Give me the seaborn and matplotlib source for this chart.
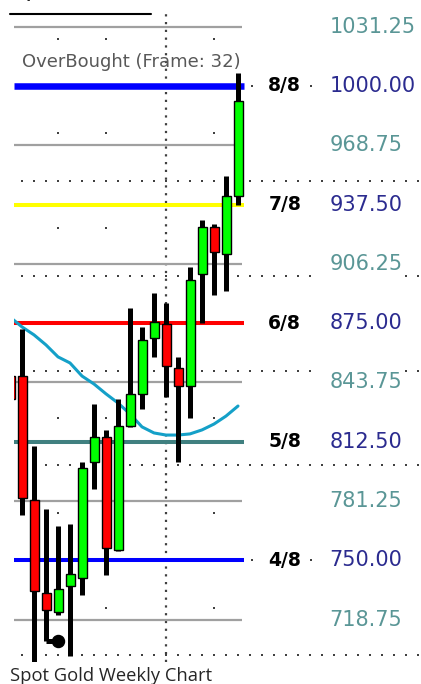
import numpy as np
import pandas as pd
import matplotlib
matplotlib.use("Agg")
import matplotlib.pyplot as plt
from matplotlib.lines import Line2D
import seaborn as sns

# weekly candles (index 0 is the one cut by the left edge)
opens = [847.0, 847.1, 781.8, 732.8, 722.7, 736.5, 740.7, 801.8, 815.0, 755.4,
         820.8, 837.7, 867.2, 874.6, 851.4, 841.9, 900.9, 925.7, 911.4, 942.0]
highs = [848.0, 871.9, 810.2, 777.0, 768.1, 769.1, 801.8, 832.4, 818.7, 835.0,
         883.0, 873.0, 890.9, 885.6, 857.2, 904.6, 929.4, 927.3, 952.6, 1006.9]
lows = [834.0, 773.9, 690.0, 707.5, 721.2, 699.6, 731.7, 787.6, 742.3, 755.0,
        820.3, 829.7, 857.2, 836.1, 801.8, 825.0, 875.1, 889.8, 891.9, 937.3]
closes = [835.0, 782.8, 733.8, 723.8, 734.9, 742.8, 798.6, 815.0, 756.5, 820.8,
          837.7, 866.1, 875.6, 852.4, 841.9, 897.7, 925.7, 912.5, 942.0, 992.1]

# moving average (cyan line)
ma_values = [878.2, 873.0, 868.8, 863.5, 857.2, 854.0, 847.1, 842.9, 837.7, 832.9,
             827.1, 820.3, 817.1, 816.0, 816.0, 816.6, 818.7, 821.8, 826.0, 831.3]

# Murrey math levels
eighth_levels = [1031.25, 1000.0, 968.75, 937.5, 906.25, 875.0, 843.75, 812.5, 781.25, 750.0, 718.75]
key_levels = [1000.0, 937.5, 875.0, 812.5, 750.0]
key_tags = ["8/8", "7/8", "6/8", "5/8", "4/8"]
key_colors = ["#0000ff", "#ffff00", "#ff0000", "#408080", "#0000ff"]
key_widths = [4.7, 2.9, 2.9, 2.9, 2.9]
minor_levels = [1031.25, 968.75, 906.25, 843.75, 781.25, 718.75]

# price grid (dense rows every 50, sparse dots every 25)
grid_50 = [950, 900, 850, 800, 700]
gap_rows = [900, 850]
grid_25 = [1025, 975, 925, 875, 825, 775, 725]
sparse_cols = [4, 8, 17]
time_marker = 13

signal_idx = [4]
signal_price = [707.5]

sns.set_style("white")
plt.rcParams["font.family"] = ["DejaVu Sans"]

fig = plt.figure(figsize=(4.21, 6.84), dpi=100)
ax = fig.add_axes([14 / 421, 1 - 662 / 684, 407 / 421, 648 / 684])

x = np.arange(len(opens))
dot_cols = np.arange(1, 35)

# dotted price grid
for lvl in grid_50:
    cols = dot_cols
    if lvl in gap_rows:
        cols = dot_cols[(dot_cols < 26) | (dot_cols > 32)]
    ax.scatter(cols, [lvl] * len(cols), s=2.5, marker="s", color="#404040",
               linewidths=0, zorder=1, clip_on=False)
for lvl in grid_25:
    ax.scatter(sparse_cols, [lvl] * len(sparse_cols), s=2.5, marker="s", color="#404040",
               linewidths=0, zorder=1)
ax.axvline(time_marker, ls=(0, (1, 2.5)), lw=1.6, color="#404040", zorder=1)

# eighth lines
for lvl in minor_levels:
    ax.hlines(lvl, 0.333, 19.3, color="#a0a0a0", lw=1.6, zorder=2)
for lvl, c, w in zip(key_levels, key_colors, key_widths):
    ax.hlines(lvl, 0.333, 19.5, color=c, lw=w, zorder=2)

# moving average
ma_df = pd.DataFrame({"week": x, "ma": ma_values})
sns.lineplot(data=ma_df, x="week", y="ma", ax=ax, color="#14a0c8", lw=2.2, zorder=3)

# candles
o = np.array(opens)
c = np.array(closes)
colors = np.where(c >= o, "#00ff00", "#ff0000")
ax.vlines(x, lows, highs, color="black", lw=3.6, capstyle="butt", zorder=4)
ax.bar(x, np.abs(c - o), bottom=np.minimum(o, c), width=0.75, color=colors,
       edgecolor="black", linewidth=1.0, zorder=5)

# signal dot
ax.plot([3, signal_idx[0]], [lows[3], signal_price[0]], color="black", lw=3.6,
        solid_capstyle="butt", zorder=4)
ax.scatter(signal_idx, signal_price, s=75, color="black", zorder=6)

# labels on the right
for lvl in eighth_levels:
    col = "#2b2b8f" if lvl in key_levels else "#5a9696"
    ax.text(26.6, lvl, f"{lvl:.2f}", color=col, fontsize=15, ha="left", va="center",
            clip_on=False)
for lvl, tag in zip(key_levels, key_tags):
    ax.text(22.9, lvl, tag, color="black", fontsize=13.5, fontweight="bold",
            ha="center", va="center", clip_on=False)
for lvl in [1000.0, 750.0]:
    ax.scatter([20.2, 25.1], [lvl, lvl], s=2.5, marker="s", color="#404040",
               linewidths=0, clip_on=False)

ax.text(1.0, 1010.0, "OverBought (Frame: 32)", color="#585858", fontsize=13,
        ha="left", va="baseline")

ax.set_xlim(0.333, 34.25)
ax.set_ylim(696.36, 1037.95)
ax.axis("off")

# captions (the top one is cut by the page edge in the source picture)
fig.text(10 / 421, 1 + 6 / 684, "Spot Gold", family=["Open Sans", "DejaVu Sans"],
         fontsize=20, va="baseline", ha="left")
fig.add_artist(Line2D([10 / 421, 151 / 421], [1 - 13.5 / 684] * 2, color="black", lw=1.5))
fig.text(10 / 421, 1 - 681 / 684, "Spot Gold Weekly Chart", family=["Open Sans", "DejaVu Sans"],
         fontsize=13.2, va="baseline", ha="left")

fig.savefig("out.png", dpi=100)
